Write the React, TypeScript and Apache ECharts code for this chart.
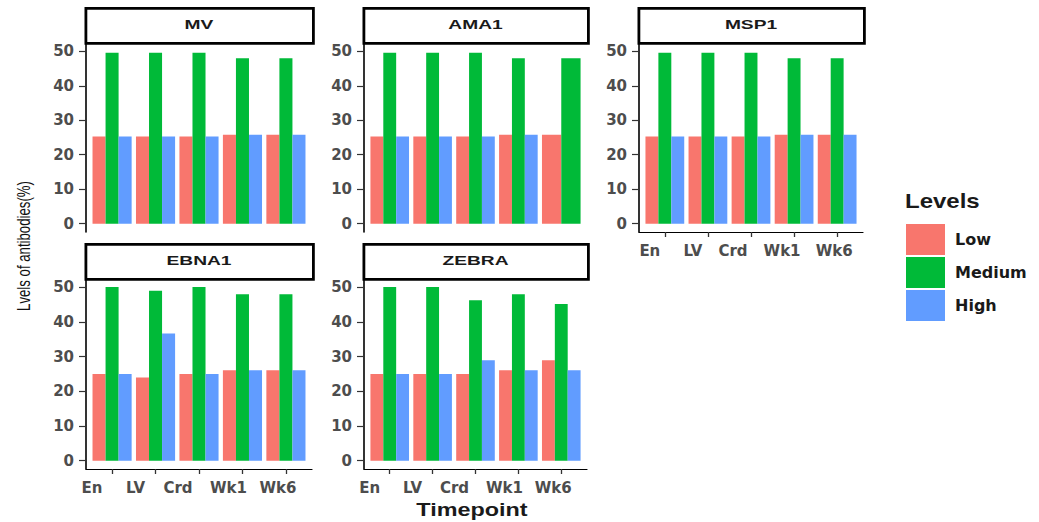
import React, { useEffect, useRef } from "react";
import * as echarts from "echarts";

const timepoints = ["En", "LV", "Crd", "Wk1", "Wk6"];
const panels = ["MV", "AMA1", "MSP1", "EBNA1", "ZEBRA"];
const levels = ["Low", "Medium", "High"];
const levelColors = ["#F8766D", "#00BA38", "#619CFF"];
const yTicks = [0, 10, 20, 30, 40, 50];

const mvLow = [25.3, 25.3, 25.3, 25.8, 25.8];
const mvMedium = [49.6, 49.6, 49.6, 48, 48];
const mvHigh = [25.3, 25.3, 25.3, 25.8, 25.8];

const ama1Low = [25.3, 25.3, 25.3, 25.8, 25.8];
const ama1Medium = [49.6, 49.6, 49.6, 48, 48];
const ama1High: (number | null)[] = [25.3, 25.3, 25.3, 25.8, null];

const msp1Low = [25.3, 25.3, 25.3, 25.8, 25.8];
const msp1Medium = [49.6, 49.6, 49.6, 48, 48];
const msp1High = [25.3, 25.3, 25.3, 25.8, 25.8];

const ebna1Low = [25, 24, 25, 26.1, 26.1];
const ebna1Medium = [50.1, 49, 50.1, 48, 48];
const ebna1High = [25, 36.7, 25, 26.1, 26.1];

const zebraLow = [25, 25, 25, 26.1, 29];
const zebraMedium = [50.1, 50.1, 46.3, 48, 45.2];
const zebraHigh = [25, 25, 29, 26.1, 26.1];

const panelData: (number | null)[][][] = [
  [mvLow, mvMedium, mvHigh],
  [ama1Low, ama1Medium, ama1High],
  [msp1Low, msp1Medium, msp1High],
  [ebna1Low, ebna1Medium, ebna1High],
  [zebraLow, zebraMedium, zebraHigh],
];

// label horizontal offsets (px) relative to tick, as in the reference rendering
const bottomShift = [-20, -20, -21, -14, -8];
const msp1Shift = [-15, -15, -18, -12, -3];

const layout = [
  { left: 86, top: 43, width: 226, height: 189, showX: false, shift: bottomShift },
  { left: 364, top: 43, width: 223, height: 189, showX: false, shift: bottomShift },
  { left: 639, top: 43, width: 224, height: 189, showX: true, shift: msp1Shift },
  { left: 86, top: 279, width: 226, height: 190, showX: true, shift: bottomShift },
  { left: 364, top: 279, width: 223, height: 190, showX: true, shift: bottomShift },
];

const FONT = "DejaVu Sans";
const SANS = "Liberation Sans";

export default function App() {
  const ref = useRef<HTMLDivElement>(null);

  useEffect(() => {
    if (!ref.current) return;
    const chart = echarts.init(ref.current, undefined, { renderer: "svg" });

    const grid = layout.map((g) => ({
      left: g.left,
      top: g.top,
      width: g.width,
      height: g.height,
    }));

    const labelFont = {
      fontFamily: FONT,
      fontWeight: "bold",
      fontSize: 15,
      color: "#4d4d4d",
    };

    const xAxis = layout.map((g, i) => {
      const rich: any = {};
      g.shift.forEach((s, k) => {
        rich["s" + k] = {
          ...labelFont,
          padding: s < 0 ? [0, -2 * s, 0, 0] : [0, 0, 0, 2 * s],
        };
      });
      return {
        type: "value",
        gridIndex: i,
        min: 0.4,
        max: 5.6,
        show: g.showX,
        splitLine: { show: false },
        axisLine: { show: true, onZero: false, lineStyle: { color: "#000", width: 1.2 } },
        axisTick: {
          show: true,
          customValues: [1, 2, 3, 4, 5],
          length: 5,
          lineStyle: { color: "#333", width: 1.3 },
        },
        axisLabel: {
          customValues: [1, 2, 3, 4, 5],
          formatter: (v: number) => {
            const k = Math.round(v) - 1;
            return "{s" + k + "|" + (timepoints[k] ?? "") + "}";
          },
          rich,
          margin: 11,
          ...labelFont,
        },
      };
    });

    const yAxis = layout.map((g, i) => ({
      type: "value",
      gridIndex: i,
      min: -2.4,
      max: 52.4,
      splitLine: { show: false },
      axisLine: { show: true, onZero: false, lineStyle: { color: "#000", width: 1.6 } },
      axisTick: {
        show: true,
        customValues: yTicks,
        length: 7,
        lineStyle: { color: "#333", width: 1.2 },
      },
      axisLabel: {
        customValues: yTicks,
        margin: 12,
        ...labelFont,
      },
    }));

    const series: any[] = [];
    panelData.forEach((lv, p) => {
      lv.forEach((arr, l) => {
        const data = arr
          .map((v, i) => (v == null ? null : [i + 1, v]))
          .filter((d) => d != null);
        series.push({
          type: "custom",
          name: levels[l],
          xAxisIndex: p,
          yAxisIndex: p,
          itemStyle: { color: levelColors[l] },
          data,
          renderItem: (params: any, api: any) => {
            const cat = api.value(0);
            const val = api.value(1);
            const present: number[] = [];
            lv.forEach((a, idx) => {
              if (a[cat - 1] != null) present.push(idx);
            });
            const n = present.length;
            const k = present.indexOf(l);
            const unit = api.size([1, 0])[0];
            const groupW = unit * 0.9;
            const barW = groupW / n;
            const base = api.coord([cat, 0]);
            const top = api.coord([cat, val]);
            return {
              type: "rect",
              shape: {
                x: base[0] - groupW / 2 + k * barW,
                y: top[1],
                width: barW,
                height: base[1] - top[1],
              },
              style: { fill: levelColors[l] },
            };
          },
        });
      });
    });

    const graphic: any[] = [];
    layout.forEach((g, i) => {
      graphic.push({
        type: "rect",
        left: g.left - 1.5,
        top: g.top - 36,
        shape: { width: g.width + 1.5, height: 35 },
        style: { fill: "#fff", stroke: "#000", lineWidth: 2.8 },
        z: 10,
      });
      graphic.push({
        type: "text",
        x: g.left + g.width / 2,
        y: g.top - 18,
        scaleX: 1.6,
        style: {
          text: panels[i],
          fontFamily: SANS,
          fontWeight: "bold",
          fontSize: 12,
          fill: "#1a1a1a",
          align: "center",
          verticalAlign: "middle",
        },
        z: 11,
      });
    });
    graphic.push({
      type: "text",
      x: 23,
      y: 246,
      rotation: Math.PI / 2,
      scaleY: 1.45,
      style: {
        text: "Lvels of antibodies(%)",
        fontFamily: SANS,
        fontSize: 13.2,
        fill: "#111",
        align: "center",
        verticalAlign: "middle",
      },
    });
    graphic.push({
      type: "text",
      x: 472,
      y: 510,
      scaleX: 1.3,
      style: {
        text: "Timepoint",
        fontFamily: SANS,
        fontWeight: "bold",
        fontSize: 18,
        fill: "#1a1a1a",
        align: "center",
        verticalAlign: "middle",
      },
    });
    graphic.push({
      type: "text",
      x: 905,
      y: 201,
      scaleX: 1.2,
      style: {
        text: "Levels",
        fontFamily: SANS,
        fontWeight: "bold",
        fontSize: 20,
        fill: "#1a1a1a",
        align: "left",
        verticalAlign: "middle",
      },
    });

    chart.setOption({
      animation: false,
      backgroundColor: "#fff",
      grid,
      xAxis,
      yAxis,
      series,
      graphic,
      legend: {
        data: levels,
        orient: "vertical",
        left: 901,
        top: 219,
        itemWidth: 39,
        itemHeight: 31,
        itemGap: 2,
        icon: "rect",
        selectedMode: false,
        textStyle: {
          fontFamily: FONT,
          fontWeight: "bold",
          fontSize: 16,
          color: "#1a1a1a",
          padding: [0, 0, 0, 5],
        },
      },
    });

    return () => chart.dispose();
  }, []);

  return (
    <div
      ref={ref}
      style={{ position: "fixed", left: 0, top: 0, width: 1039, height: 522 }}
    />
  );
}
